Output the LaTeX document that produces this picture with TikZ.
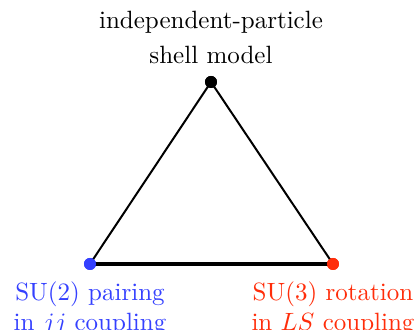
\documentclass[tikz,border=0pt]{standalone}
\usepackage{xcolor}
\usepackage{tikz}
\usetikzlibrary{positioning}

\definecolor{pairblue}{RGB}{52,64,255}
\definecolor{rotred}{RGB}{255,45,10}

\begin{document}
\begin{tikzpicture}[x=0.4pt, y=0.4pt, node distance=0.35cm,
  vertex/.style={circle, fill=black, inner sep=0pt, minimum size=4.8pt},
  limitlabel/.style={align=center, inner sep=0pt}]
  \useasboundingbox (0,0) rectangle (416,330);
  % three limits of the nuclear shell model
  \node[vertex] (shell) at (211,248) {};
  \node[vertex, fill=pairblue] (pairing) at (90,66) {};
  \node[vertex, fill=rotred] (rotation) at (333,66) {};

  \draw[line width=0.8pt] (pairing.center) -- (shell.center) -- (rotation.center);
  \draw[line width=1.4pt] (pairing.center) -- (rotation.center);
  \node[vertex] at (shell) {};
  \node[vertex, fill=pairblue] at (pairing) {};
  \node[vertex, fill=rotred] at (rotation) {};

  \node[limitlabel, above=4.4pt of shell] (shelltext) {%
    independent-particle\\[2pt]
    shell model};
  \node[limitlabel, below=4.5pt of pairing, text=pairblue] (pairtext) {%
    SU(2) pairing\\
    in $jj$ coupling};
  \node[limitlabel, below=4.5pt of rotation, text=rotred] (rottext) {%
    SU(3) rotation\\
    in $LS$ coupling};
\end{tikzpicture}
\end{document}
